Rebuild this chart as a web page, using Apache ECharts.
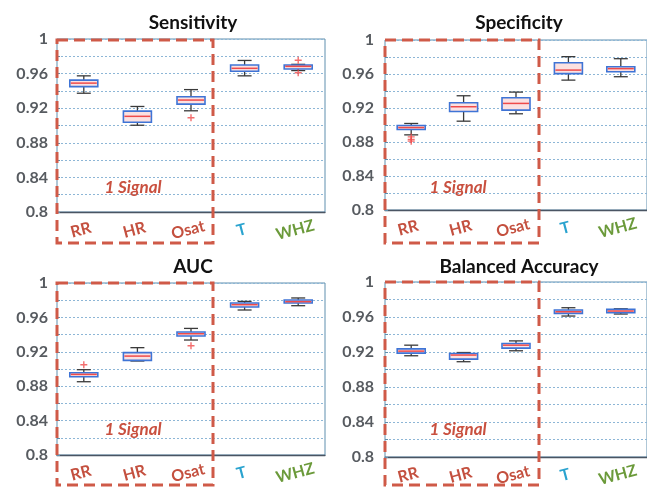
<!DOCTYPE html>
<html>
<head>
<meta charset="utf-8">
<script src="https://cdn.jsdelivr.net/npm/echarts@6/dist/echarts.min.js"></script>
<style>
html,body{margin:0;padding:0;background:#fff;}
#chart{width:647px;height:487px;}
</style>
</head>
<body>
<div id="chart"></div>
<script>
const categories = ['RR', 'HR', 'Osat', 'T', 'WHZ'];
const panelTitles = ['Sensitivity', 'Specificity', 'AUC', 'Balanced Accuracy'];
const yTickLabels = ['0.8', '0.84', '0.88', '0.92', '0.96', '1'];
const groupLabel = '1 Signal';

// each row: [lower whisker, Q1, median, Q3, upper whisker]
const sensitivityStats = [
  [0.9373, 0.9449, 0.9490, 0.9525, 0.9574],
  [0.9003, 0.9038, 0.9106, 0.9166, 0.9220],
  [0.9170, 0.9247, 0.9294, 0.9332, 0.9415],
  [0.9574, 0.9627, 0.9661, 0.9699, 0.9752],
  [0.9635, 0.9653, 0.9684, 0.9700, 0.9707]
];
const sensitivityOutliers = [[2, 0.909], [4, 0.9755], [4, 0.961]];

const specificityStats = [
  [0.8884, 0.8947, 0.8970, 0.8994, 0.9018],
  [0.9045, 0.9159, 0.9215, 0.9262, 0.9344],
  [0.9132, 0.9175, 0.9254, 0.9320, 0.9387],
  [0.9528, 0.9604, 0.9646, 0.9733, 0.9804],
  [0.9568, 0.9627, 0.9663, 0.9686, 0.9780]
];
const specificityOutliers = [[0, 0.886], [0, 0.883], [0, 0.881]];

const aucStats = [
  [0.8852, 0.8910, 0.8937, 0.8957, 0.8992],
  [0.9093, 0.9100, 0.9150, 0.9190, 0.9248],
  [0.9337, 0.9384, 0.9410, 0.9430, 0.9472],
  [0.9686, 0.9721, 0.9748, 0.9767, 0.9786],
  [0.9736, 0.9767, 0.9783, 0.9802, 0.9826]
];
const aucOutliers = [[0, 0.905], [2, 0.927]];

const balancedAccuracyStats = [
  [0.9157, 0.9187, 0.9210, 0.9236, 0.9278],
  [0.9089, 0.9119, 0.9165, 0.9183, 0.9194],
  [0.9214, 0.9244, 0.9278, 0.9297, 0.9327],
  [0.9611, 0.9642, 0.9660, 0.9680, 0.9706],
  [0.9634, 0.9649, 0.9668, 0.9687, 0.9694]
];
const balancedAccuracyOutliers = [];

const allStats = [sensitivityStats, specificityStats, aucStats, balancedAccuracyStats];
const allOutliers = [sensitivityOutliers, specificityOutliers, aucOutliers, balancedAccuracyOutliers];

const FONT = 'Lato, "Open Sans", sans-serif';
const labelColors = ['#c4503f', '#c4503f', '#c4503f', '#2aa3cf', '#6b9a3a'];
const dashRed = '#cf5a48';

const grids = [
  {left: 57, top: 39, width: 268, height: 173},
  {left: 385, top: 40, width: 264, height: 170},
  {left: 57, top: 283, width: 268, height: 172},
  {left: 385, top: 282, width: 264, height: 175}
];

function renderBox(params, api) {
  const x = api.value(0);
  const lo = api.coord([x, api.value(1)]);
  const q1 = api.coord([x, api.value(2)]);
  const md = api.coord([x, api.value(3)]);
  const q3 = api.coord([x, api.value(4)]);
  const hi = api.coord([x, api.value(5)]);
  const cx = lo[0];
  const hw = 14, cw = 7;
  const wStyle = {stroke: '#3a3a3a', lineWidth: 1.3};
  return {
    type: 'group',
    children: [
      {type: 'line', shape: {x1: cx, y1: hi[1], x2: cx, y2: q3[1]}, style: wStyle},
      {type: 'line', shape: {x1: cx, y1: q1[1], x2: cx, y2: lo[1]}, style: wStyle},
      {type: 'line', shape: {x1: cx - cw, y1: hi[1], x2: cx + cw, y2: hi[1]}, style: wStyle},
      {type: 'line', shape: {x1: cx - cw, y1: lo[1], x2: cx + cw, y2: lo[1]}, style: wStyle},
      {type: 'rect', shape: {x: cx - hw, y: q3[1], width: 2 * hw, height: q1[1] - q3[1]},
        style: {fill: '#fbe1e1', stroke: '#3f74d6', lineWidth: 1.6}},
      {type: 'line', shape: {x1: cx - hw + 1, y1: md[1], x2: cx + hw - 1, y2: md[1]},
        style: {stroke: '#ef4b4b', lineWidth: 1.5}}
    ]
  };
}

const option = {
  animation: false,
  backgroundColor: '#ffffff',
  grid: grids.map(g => Object.assign({
    show: true, borderColor: '#5f8fae', borderWidth: 1, backgroundColor: 'transparent', containLabel: false
  }, g)),
  xAxis: grids.map((g, i) => ({
    type: 'category', gridIndex: i, data: categories, boundaryGap: true,
    axisLine: {show: true, lineStyle: {color: '#4a5563', width: 1.4}},
    axisTick: {show: false},
    splitLine: {show: false},
    axisLabel: {show: false}
  })),
  yAxis: grids.map((g, i) => ({
    type: 'value', gridIndex: i, min: 0.8, max: 1, interval: 0.02,
    axisLine: {show: false},
    axisTick: {show: true, inside: true, length: 3, lineStyle: {color: '#5f8fae'}},
    splitLine: {show: true, lineStyle: {type: [2, 2], color: '#8db6d6', width: 1}},
    axisLabel: {
      margin: i % 2 === 0 ? 9 : 11,
      fontFamily: FONT, fontWeight: 'bold', fontSize: 16, color: '#575b60',
      formatter: v => {
        const s = String(Math.round(v * 100) / 100);
        return yTickLabels.indexOf(s) >= 0 ? s : '';
      }
    }
  })),
  series: [],
  graphic: []
};

allStats.forEach((stats, i) => {
  option.series.push({
    type: 'custom', xAxisIndex: i, yAxisIndex: i,
    renderItem: renderBox,
    encode: {x: 0, y: [1, 2, 3, 4, 5]},
    data: stats.map((s, k) => [k].concat(s)),
    z: 5
  });
  option.series.push({
    type: 'scatter', xAxisIndex: i, yAxisIndex: i,
    symbol: 'path://M-0.6,-3H0.6V-0.6H3V0.6H0.6V3H-0.6V0.6H-3V-0.6H-0.6Z',
    symbolSize: 7,
    itemStyle: {color: '#f04a4a'},
    data: allOutliers[i],
    z: 6
  });
});

const titlePos = [[193, 23], [519, 23], [193, 267], [519, 267]];
titlePos.forEach((p, i) => {
  option.graphic.push({
    type: 'text', x: p[0], y: p[1], z: 100,
    style: {text: panelTitles[i], font: 'bold 19px ' + FONT, fill: '#111', align: 'center', verticalAlign: 'middle'}
  });
});

const signalPos = [[133, 188], [458, 188], [133, 430], [458, 430]];
signalPos.forEach(p => {
  option.graphic.push({
    type: 'text', x: p[0], y: p[1], z: 100,
    style: {text: groupLabel, font: 'italic bold 17px ' + FONT, fill: '#c9503f', align: 'center', verticalAlign: 'middle'}
  });
});

const dashBoxes = [
  [57, 40, 156, 203],
  [385, 40, 154, 203],
  [57, 283, 156, 202],
  [385, 282, 154, 203]
];
dashBoxes.forEach(b => {
  option.graphic.push({
    type: 'rect', z: 100,
    shape: {x: b[0], y: b[1], width: b[2], height: b[3]},
    style: {fill: 'none', stroke: dashRed, lineWidth: 3, lineDash: [11, 6]}
  });
});

const chart = echarts.init(document.getElementById('chart'), null, {renderer: 'canvas'});
chart.setOption(option);

// Tilted category labels placed at the positions given by each panel's own category axis
const catLabels = [];
grids.forEach((g, i) => {
  categories.forEach((c, k) => {
    const p = chart.convertToPixel({xAxisIndex: i, yAxisIndex: i}, [k, 0.8]);
    catLabels.push({
      type: 'text', x: p[0] - 3, y: p[1] + 18, rotation: 15 * Math.PI / 180, z: 100,
      style: {text: c, font: 'bold 16px ' + FONT, fill: labelColors[k], align: 'center', verticalAlign: 'middle'}
    });
  });
});
chart.setOption({graphic: option.graphic.concat(catLabels)});
</script>
</body>
</html>
